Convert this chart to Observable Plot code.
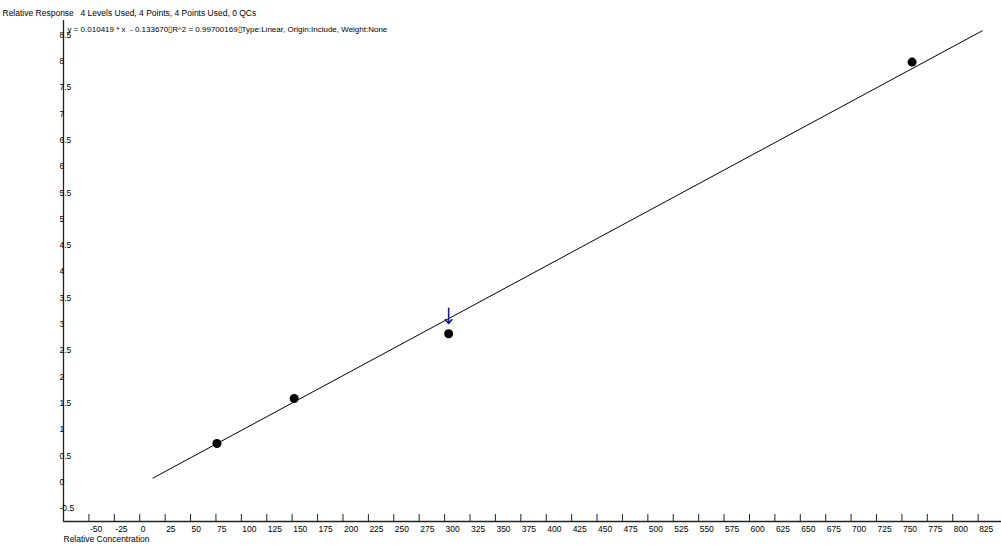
<!DOCTYPE html>
<html><head><meta charset="utf-8">
<script src="https://cdn.jsdelivr.net/npm/d3@7"></script>
<script src="https://cdn.jsdelivr.net/npm/@observablehq/plot@0.6"></script>
<style>
body{margin:0;background:#fff;}
</style></head><body>
<div id="chart"></div>
<script>
// ---- data ----
const concentration = [76, 152, 304, 760];
const response = [0.66, 1.515, 2.745, 7.91];
const lineX = [13, 829];
const slope = 0.010419;
const intercept = -0.133670;
const r2 = 0.99700169;
const arrowX = [304];
const arrowTop = [3.23];
const arrowTip = [2.94];
const xTicks = [-75,-50,-25,0,25,50,75,100,125,150,175,200,225,250,275,300,325,350,375,400,425,450,475,500,525,550,575,600,625,650,675,700,725,750,775,800,825];
const xTickLabels = ["","-50","-25","0","25","50","75","100","125","150","175","200","225","250","275","300","325","350","375","400","425","450","475","500","525","550","575","600","625","650","675","700","725","750","775","800","825"];
const yTicks = [-0.5,0,0.5,1,1.5,2,2.5,3,3.5,4,4.5,5,5.5,6,6.5,7,7.5,8,8.5];
const yTickLabels = ["-0.5","0","0.5","1","1.5","2","2.5","3","3.5","4","4.5","5","5.5","6","6.5","7","7.5","8","8.5"];
const xDomain = [-75, 848];
const yDomain = [-0.823, 8.70];
const yTitle = "Relative Response";
const headerText = "4 Levels Used, 4 Points, 4 Points Used, 0 QCs";
const xTitle = "Relative Concentration";
const equation = `y = ${slope} * x  - ${Math.abs(intercept).toFixed(6)}\u25AFR^2 = ${r2}\u25AFType:Linear, Origin:Include, Weight:None`;

// ---- build ----
const points = concentration.map((c, i) => ({x: c, y: response[i]}));
const fitLine = lineX.map(x => ({x, y: slope * x + intercept}));
const arrows = arrowX.map((x, i) => ({x, y1: arrowTop[i], y2: arrowTip[i]}));
const xt = xTicks.map((v, i) => ({v, label: xTickLabels[i]}));
const yt = yTicks.map((v, i) => ({v, label: yTickLabels[i]}));

const font = "'Liberation Sans', Arial, sans-serif";
const plot = Plot.plot({
  width: 1001,
  height: 552,
  marginLeft: 63,
  marginRight: 0,
  marginTop: 20,
  marginBottom: 31,
  x: {domain: xDomain, axis: null},
  y: {domain: yDomain, axis: null},
  style: {fontFamily: font, fontSize: "8.5px", background: "white", color: "black", overflow: "visible"},
  marks: [
    Plot.ruleX([xDomain[0]], {stroke: "#222", strokeWidth: 1.3}),
    Plot.ruleY([yDomain[0]], {stroke: "#222", strokeWidth: 1.3}),
    Plot.tickX(xt, {x: "v", stroke: "#222", insetTop: 494}),
    Plot.text(xt, {x: "v", text: "label", frameAnchor: "bottom", dx: 1, dy: 10, textAnchor: "start", fill: "black"}),
    Plot.text(yt, {y: "v", text: "label", frameAnchor: "left", dx: -4, dy: 4, textAnchor: "start", fill: "black"}),
    Plot.text([xTitle], {text: d => d, frameAnchor: "bottom-left", dy: 20, textAnchor: "start", fill: "black"}),
    Plot.text([yTitle], {text: d => d, frameAnchor: "top-left", dx: -61, dy: -11, textAnchor: "start", fill: "black"}),
    Plot.text([headerText], {text: d => d, frameAnchor: "top-left", dx: 17, dy: -11, textAnchor: "start", fill: "black"}),
    Plot.text([equation], {text: d => d, frameAnchor: "top-left", dx: 4, dy: 6, textAnchor: "start", fill: "black", fontSize: 8}),
    Plot.line(fitLine, {x: "x", y: "y", stroke: "black", strokeWidth: 1}),
    Plot.dot(points, {x: "x", y: "y", r: 4.5, fill: "black", stroke: "none"}),
    Plot.arrow(arrows, {x: "x", y1: "y1", y2: "y2", stroke: "#1c1c8c", strokeWidth: 1.6, headLength: 10, headAngle: 80})
  ]
});
document.getElementById("chart").appendChild(plot);
</script>
</body></html>
